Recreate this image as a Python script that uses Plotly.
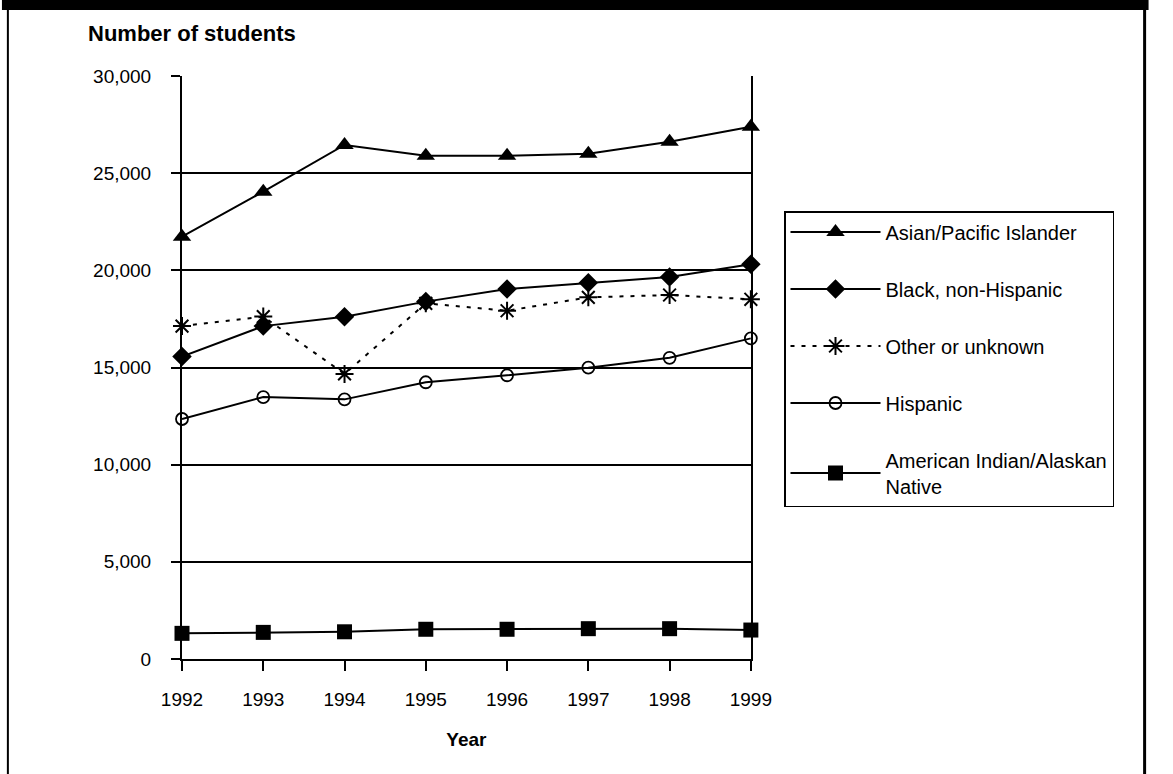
import plotly.graph_objects as go

years = [1992, 1993, 1994, 1995, 1996, 1997, 1998, 1999]
asian = [21730, 24050, 26450, 25900, 25900, 26000, 26620, 27390]
black = [15560, 17130, 17610, 18390, 19040, 19360, 19660, 20310]
other = [17130, 17620, 14670, 18300, 17920, 18610, 18730, 18510]
hispanic = [12350, 13480, 13360, 14240, 14600, 14990, 15500, 16500]
amind = [1320, 1370, 1400, 1530, 1530, 1560, 1560, 1490]
y_ticks = [0, 5000, 10000, 15000, 20000, 25000, 30000]
y_labels = ["0", "5,000", "10,000", "15,000", "20,000", "25,000", "30,000"]

FONT = "Liberation Sans, Arial, sans-serif"
W, H = 1173, 774
L, R, T, B = 182, 757, 76, 659

def px(p):
    return (p - L) / (R - L)

def py(q):
    return (B - q) / (B - T)

fig = go.Figure()
series = [
    ("Asian/Pacific Islander", asian, "triangle-up", 16, "solid", 0),
    ("Black, non-Hispanic", black, "diamond", 15, "solid", 0),
    ("Other or unknown", other, "asterisk-open", 15, "4px,7px", 2),
    ("Hispanic", hispanic, "circle-open", 12, "solid", 1.8),
    ("American Indian/Alaskan<br>Native", amind, "square", 15, "solid", 0),
]
for i, (name, vals, sym, size, dash, lw) in enumerate(series):
    fig.add_trace(go.Scatter(
        x=years, y=vals, name=name, mode="lines+markers",
        legendgroup=f"g{i}",
        line=dict(color="black", width=2, dash=dash),
        marker=dict(symbol=sym, size=size, color="black",
                    line=dict(color="black", width=lw)),
        cliponaxis=False,
    ))

shapes = [
    dict(type="rect", xref="paper", yref="paper", x0=px(0), x1=px(1159), y0=py(0), y1=py(10),
         fillcolor="black", line=dict(width=0), layer="above"),
    dict(type="line", xref="paper", yref="paper", x0=px(6), x1=px(6), y0=py(0), y1=py(774),
         line=dict(color="black", width=2)),
    dict(type="line", xref="paper", yref="paper", x0=px(1155), x1=px(1155), y0=py(0), y1=py(774),
         line=dict(color="black", width=3)),
]

fig.update_layout(
    width=W, height=H,
    margin=dict(l=L, r=W - R, t=T, b=H - B),
    paper_bgcolor="white", plot_bgcolor="white",
    font=dict(family=FONT, size=19, color="black"),
    showlegend=True,
    shapes=shapes,
    title=dict(text="<b>Number of students</b>", xref="container", yref="container",
               x=88 / W, y=1 - 33 / H, xanchor="left", yanchor="middle",
               font=dict(family=FONT, size=22, color="black")),
    legend=dict(xref="container", yref="container", x=784 / W, y=1 - 211 / H,
                xanchor="left", yanchor="top", bordercolor="black", borderwidth=1.5,
                bgcolor="white", traceorder="grouped", tracegroupgap=28,
                font=dict(family=FONT, size=20, color="black"), itemwidth=90),
    xaxis=dict(range=[1992, 1999], tickvals=years, ticktext=[str(y) for y in years],
               showgrid=False, zeroline=False, showline=True, linecolor="black", linewidth=2,
               ticks="outside", ticklen=10, tickwidth=1.5, tickcolor="black",
               ticklabelstandoff=12,
               title=dict(text="<b>Year</b>", standoff=24, font=dict(family=FONT, size=19))),
    yaxis=dict(range=[0, 30000], tickvals=y_ticks, ticktext=y_labels,
               showgrid=True, gridcolor="black", gridwidth=2, zeroline=False,
               showline=True, linecolor="black", linewidth=2, mirror=True,
               ticks="outside", ticklen=9, tickwidth=2, tickcolor="black",
               ticklabelstandoff=16),
)

fig.write_html("out.html")
